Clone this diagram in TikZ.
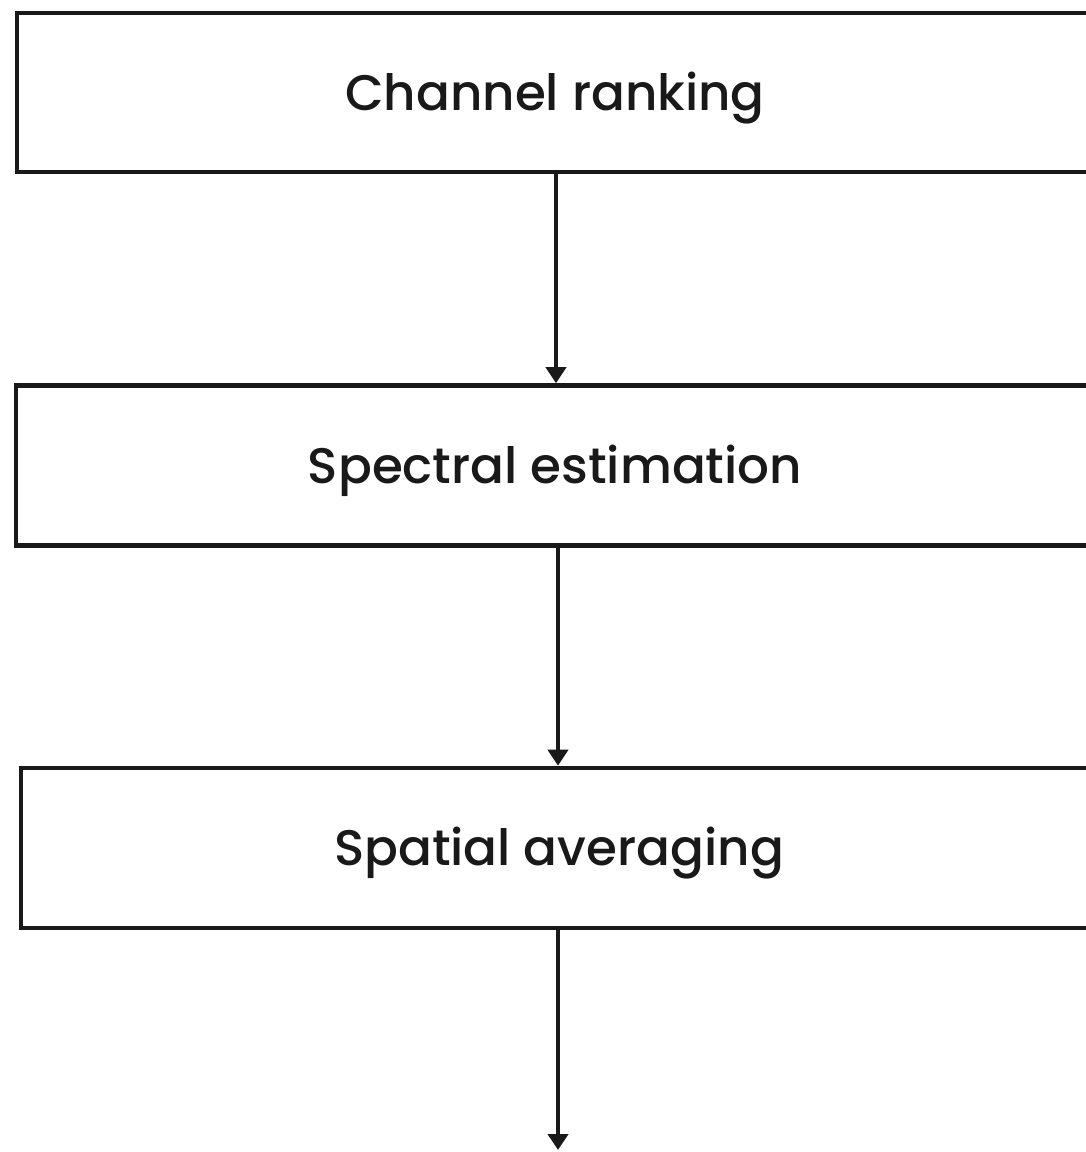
\documentclass[tikz,border=0pt]{standalone}
\usepackage{fontspec}
\setmainfont{Poppins}[UprightFont={* Medium}]
\usetikzlibrary{arrows.meta}
\begin{document}
\begin{tikzpicture}[x=1pt,y=-1pt,
  stagebox/.style={draw=black!90,line width=4.6pt,rectangle,inner sep=0pt,
    font=\fontsize{50}{58}\selectfont,text=black!90,text height=35pt,text depth=0pt},
  flow/.style={draw=black!90,line width=4.2pt,-{Triangle[length=16pt,width=20pt]}}]
\useasboundingbox (0,0) rectangle (1086,1152);
\clip (0,0) rectangle (1086,1152);
\node[stagebox,minimum width=1076pt,minimum height=159pt] (b1) at (555,92.5) {Channel ranking};
\node[stagebox,minimum width=1078pt,minimum height=160pt] (b2) at (555,465.5) {Spectral estimation};
\node[stagebox,minimum width=1076pt,minimum height=160pt] (b3) at (559,848) {Spatial averaging};
\coordinate (end) at (558,1150);
\draw[flow] ([xshift=1pt]b1.south) -- ([xshift=1pt]b1.south |- b2.north);
\draw[flow] ([xshift=3pt]b2.south) -- ([xshift=3pt]b2.south |- b3.north);
\draw[flow] ([xshift=-1pt]b3.south) -- (end);
\end{tikzpicture}
\end{document}
